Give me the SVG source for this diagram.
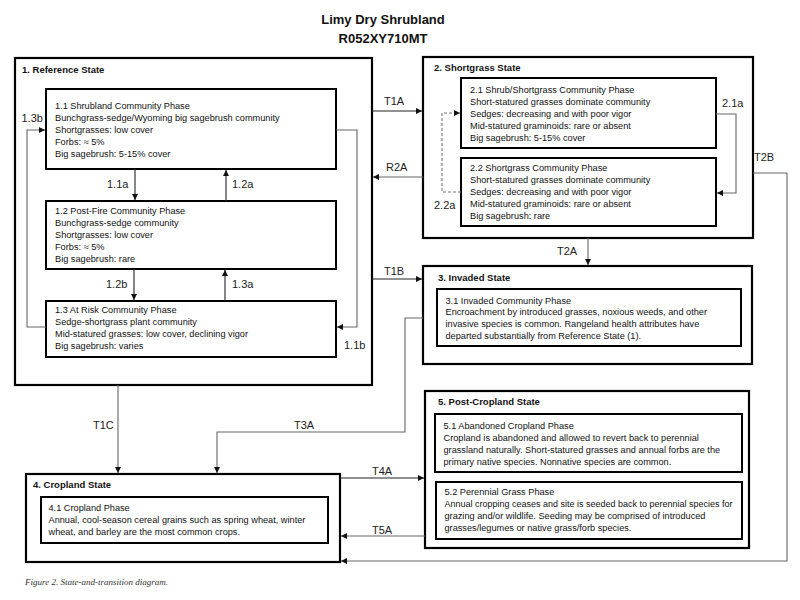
<svg xmlns="http://www.w3.org/2000/svg" width="800" height="600" viewBox="0 0 800 600">
<style>
.bg{fill:#fff}
.st{fill:none;stroke:#000;stroke-width:2.2}
.ph{fill:#fff;stroke:#000;stroke-width:2}
.t{font-family:"Liberation Sans",Arial,sans-serif;font-size:9.2px;fill:#111}
.h{font-family:"Liberation Sans",Arial,sans-serif;font-size:9.5px;font-weight:bold;fill:#111}
.ttl{font-family:"Liberation Sans",Arial,sans-serif;font-size:13px;font-weight:bold;fill:#111;text-anchor:middle}
.lb{font-family:"Liberation Sans",Arial,sans-serif;font-size:11px;fill:#222}
.c{fill:none;stroke:#222;stroke-width:1.1;marker-end:url(#ah)}
.g{fill:none;stroke:#666;stroke-width:1.1;marker-end:url(#ah)}
.d{fill:none;stroke:#777;stroke-width:1.1;stroke-dasharray:3,2;marker-end:url(#ah)}
.cap{font-family:"Liberation Serif","Times New Roman",serif;font-size:9px;font-style:italic;fill:#333}
</style>
<defs>
<marker id="ah" markerUnits="userSpaceOnUse" markerWidth="7" markerHeight="7" refX="6" refY="3" orient="auto">
<path d="M0,0 L6,3 L0,6 z" fill="#111"/>
</marker>
</defs>
<rect class="bg" x="0" y="0" width="800" height="600"/>
<g id="title">
<text class="ttl" x="383" y="24">Limy Dry Shrubland</text>
<text class="ttl" x="383" y="42.5">R052XY710MT</text>
</g>

<g id="state1">
<rect class="st" x="15" y="58" width="357" height="327"/>
<text class="h" x="22" y="73.3">1. Reference State</text>
</g>
<g id="phase1-1">
<rect class="ph" x="46" y="89" width="290" height="80"/>
<text class="t" x="55" y="108.5">1.1 Shrubland Community Phase</text>
<text class="t" x="55" y="120.7">Bunchgrass-sedge/Wyoming big sagebrush community</text>
<text class="t" x="55" y="132.8">Shortgrasses: low cover</text>
<text class="t" x="55" y="144.9">Forbs: ≈ 5%</text>
<text class="t" x="55" y="157">Big sagebrush: 5-15% cover</text>
</g>
<g id="phase1-2">
<rect class="ph" x="46" y="201" width="290" height="68"/>
<text class="t" x="55" y="213.5">1.2 Post-Fire Community Phase</text>
<text class="t" x="55" y="225.7">Bunchgrass-sedge community</text>
<text class="t" x="55" y="237.8">Shortgrasses: low cover</text>
<text class="t" x="55" y="249.9">Forbs: ≈ 5%</text>
<text class="t" x="55" y="262">Big sagebrush: rare</text>
</g>
<g id="phase1-3">
<rect class="ph" x="46" y="301" width="290" height="56"/>
<text class="t" x="55" y="313">1.3 At Risk Community Phase</text>
<text class="t" x="55" y="325">Sedge-shortgrass plant community</text>
<text class="t" x="55" y="337">Mid-statured grasses: low cover, declining vigor</text>
<text class="t" x="55" y="349">Big sagebrush: varies</text>
</g>

<g id="state2">
<rect class="st" x="423" y="57" width="330" height="181"/>
<text class="h" x="434" y="70.7">2. Shortgrass State</text>
</g>
<g id="phase2-1">
<rect class="ph" x="461" y="78" width="255" height="70"/>
<text class="t" x="470" y="93">2.1 Shrub/Shortgrass Community Phase</text>
<text class="t" x="470" y="105">Short-statured grasses dominate community</text>
<text class="t" x="470" y="117">Sedges: decreasing and with poor vigor</text>
<text class="t" x="470" y="129">Mid-statured graminoids: rare or absent</text>
<text class="t" x="470" y="141">Big sagebrush: 5-15% cover</text>
</g>
<g id="phase2-2">
<rect class="ph" x="461" y="158" width="255" height="68"/>
<text class="t" x="470" y="171">2.2 Shortgrass Community Phase</text>
<text class="t" x="470" y="183">Short-statured grasses dominate community</text>
<text class="t" x="470" y="195">Sedges: decreasing and with poor vigor</text>
<text class="t" x="470" y="207">Mid-statured graminoids: rare or absent</text>
<text class="t" x="470" y="219">Big sagebrush: rare</text>
</g>

<g id="state3">
<rect class="st" x="423" y="266" width="329" height="98"/>
<text class="h" x="438" y="281">3. Invaded  State</text>
</g>
<g id="phase3-1">
<rect class="ph" x="437" y="289" width="304" height="57"/>
<text class="t" x="445.5" y="303.5">3.1 Invaded Community Phase</text>
<text class="t" x="445.5" y="315.3">Encroachment by introduced grasses, noxious weeds, and other</text>
<text class="t" x="445.5" y="327">invasive species is common. Rangeland health attributes have</text>
<text class="t" x="445.5" y="339">departed substantially from Reference State (1).</text>
</g>

<g id="state4">
<rect class="st" x="26" y="474" width="314" height="88"/>
<text class="h" x="33" y="488.3">4. Cropland State</text>
</g>
<g id="phase4-1">
<rect class="ph" x="41" y="497" width="287" height="46"/>
<text class="t" x="48.5" y="510.7">4.1 Cropland Phase</text>
<text class="t" x="48.5" y="523">Annual, cool-season cereal grains such as spring wheat, winter</text>
<text class="t" x="48.5" y="535">wheat, and barley are the most common crops.</text>
</g>

<g id="state5">
<rect class="st" x="425" y="391" width="324" height="157"/>
<text class="h" x="438" y="405">5. Post-Cropland  State</text>
</g>
<g id="phase5-1">
<rect class="ph" x="435" y="414" width="307" height="58"/>
<text class="t" x="443.5" y="428.5">5.1 Abandoned Cropland Phase</text>
<text class="t" x="443.5" y="440.5">Cropland is abandoned and allowed to revert back to perennial</text>
<text class="t" x="443.5" y="452.5">grassland naturally. Short-statured grasses and annual forbs are the</text>
<text class="t" x="443.5" y="464.5">primary native species. Nonnative species are common.</text>
</g>
<g id="phase5-2">
<rect class="ph" x="436" y="482" width="306" height="57"/>
<text class="t" x="444.5" y="494.5">5.2 Perennial Grass Phase</text>
<text class="t" x="444.5" y="507" textLength="288" lengthAdjust="spacingAndGlyphs">Annual cropping ceases and site is seeded back to perennial species for</text>
<text class="t" x="444.5" y="519">grazing and/or wildlife. Seeding may be comprised of introduced</text>
<text class="t" x="444.5" y="531">grasses/legumes or native grass/forb species.</text>
</g>

<g id="connectors">
<path class="c" d="M135,169 V200"/>
<path class="c" d="M226,201 V170"/>
<path class="c" d="M134,269 V300"/>
<path class="c" d="M225,301 V270"/>
<path class="g" d="M46,327 H27 V130 H45"/>
<path class="g" d="M336,130 H357 V327 H337"/>
<path class="c" d="M372,111 H422"/>
<path class="g" d="M423,177 H373"/>
<path class="c" d="M372,279 H422"/>
<path class="g" d="M716,114 H736 V193 H717"/>
<path class="d" d="M461,192 H442 V113 H460"/>
<path class="g" d="M753,173 H787 V561 H341"/>
<path class="g" d="M588,238 V265"/>
<path class="g" d="M423,318 H405 V432 H217 V473"/>
<path class="g" d="M118,385 V473"/>
<path class="c" d="M340,478 H424"/>
<path class="g" d="M425,536 H341"/>
<text class="lb" x="107" y="188">1.1a</text>
<text class="lb" x="232" y="188">1.2a</text>
<text class="lb" x="106" y="288">1.2b</text>
<text class="lb" x="232" y="288">1.3a</text>
<text class="lb" x="21.5" y="121.5">1.3b</text>
<text class="lb" x="344" y="349">1.1b</text>
<text class="lb" x="384" y="104.5">T1A</text>
<text class="lb" x="386" y="171">R2A</text>
<text class="lb" x="384" y="274.5">T1B</text>
<text class="lb" x="722" y="107">2.1a</text>
<text class="lb" x="434" y="209">2.2a</text>
<text class="lb" x="754" y="161">T2B</text>
<text class="lb" x="557" y="254.5">T2A</text>
<text class="lb" x="294" y="429">T3A</text>
<text class="lb" x="93" y="429">T1C</text>
<text class="lb" x="372" y="474.5">T4A</text>
<text class="lb" x="372" y="533.5">T5A</text>
</g>
<text class="cap" x="25" y="585">Figure 2. State-and-transition diagram.</text>
</svg>
